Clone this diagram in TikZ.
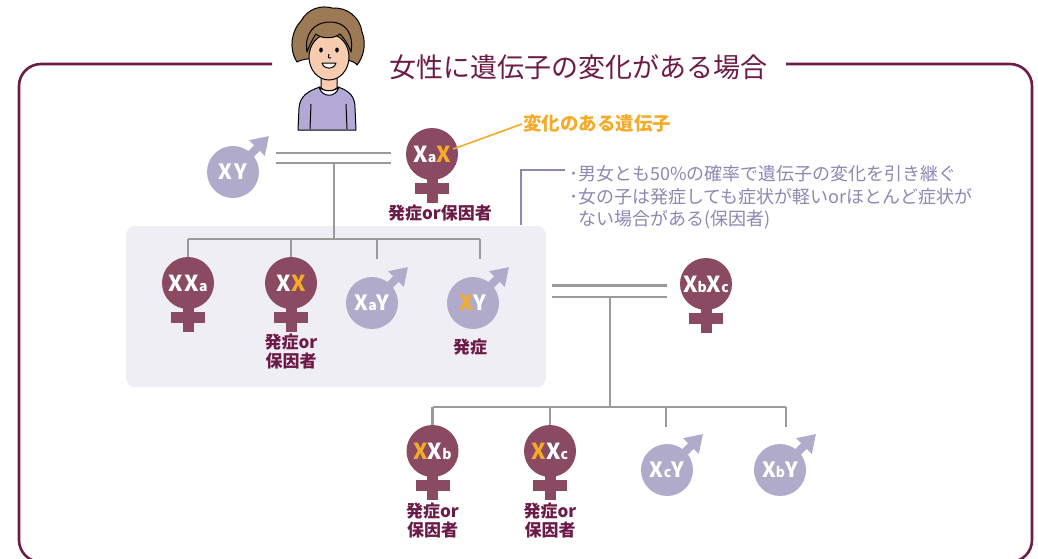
\documentclass[tikz,border=0pt]{standalone}
\usepackage{fontspec}
\setmainfont{Noto Sans CJK JP}
\newfontfamily\circfont{Noto Sans CJK JP}[LetterSpace=9]
\usetikzlibrary{arrows.meta}

\definecolor{femcol}{HTML}{8A4A62}
\definecolor{malecol}{HTML}{B1ABCB}
\definecolor{chgcol}{HTML}{F5AB28}
\definecolor{darkred}{HTML}{6C1A47}
\definecolor{framecol}{HTML}{6E1B48}
\definecolor{kincol}{HTML}{9A9A9A}
\definecolor{lavtext}{HTML}{8C87B3}
\definecolor{boxcol}{HTML}{EFEEF5}
\definecolor{hair}{HTML}{9B7A55}
\definecolor{skin}{HTML}{F7CCB0}
\definecolor{shirt}{HTML}{B3A9D6}

% small letter after an X
\newcommand\lowsub[1]{{\fontsize{14pt}{14pt}\selectfont #1}}
% the changed X
\newcommand\chgX{\textcolor{chgcol}{X}}

\tikzset{
  female/.style={circle, fill=femcol, minimum size=52pt, inner sep=0pt,
    text=white, font=\circfont\bfseries\fontsize{22pt}{22pt}\selectfont},
  male/.style={circle, fill=malecol, minimum size=52pt, inner sep=0pt,
    text=white, font=\circfont\bfseries\fontsize{21pt}{21pt}\selectfont},
  kin/.style={draw=kincol, line width=2.6pt},
  kindouble/.style={draw=kincol, line width=2.6pt, double=white},
  sexlabel/.style={text=darkred, font=\bfseries\fontsize{17pt}{19pt}\selectfont,
    align=center, inner sep=0pt},
  note/.style={text=lavtext, font=\fontsize{18pt}{18pt}\selectfont,
    anchor=west, inner sep=0pt},
}

% female cross below a circle node
\newcommand\femcross[1]{%
  \fill[femcol] ([shift={(-5.5,20)}]#1.center) rectangle ([shift={(5.5,49)}]#1.center);
  \fill[femcol] ([shift={(-17,29)}]#1.center) rectangle ([shift={(17,40)}]#1.center);}
% male arrow out of a circle node
\newcommand\malearrow[1]{%
  \draw[malecol, line width=8pt, -{Triangle[length=17pt,width=21pt]}]
    ([shift={(15,-15)}]#1.center) -- ([shift={(36,-36)}]#1.center);}

\begin{document}
\begin{tikzpicture}[x=1pt,y=-1pt]
\useasboundingbox (0,0) rectangle (1038,558);

% outer frame, open at the top for the heading
\draw[framecol, line width=2.6pt, rounded corners=22pt]
  (272,64) -- (19,64) -- (19,562) -- (1032,562) -- (1032,64) -- (786,64);
\node[text=darkred, font=\fontsize{27pt}{27pt}\selectfont, inner sep=0pt]
  (title) at (578,67) {女性に遺伝子の変化がある場合};

% the mother, drawn as a small portrait
\begin{scope}[line width=1pt, line join=round]
  % shirt
  \filldraw[fill=shirt, draw=black] (298,130) -- (299,108)
    .. controls (300,96) and (308,91) .. (320,87) -- (338,87)
    .. controls (350,91) and (355,97) .. (355,108) -- (356,130) -- cycle;
  \draw[black] (311,104) -- (310,129);
  \draw[black] (346,104) -- (347,129);
  % neck
  \filldraw[fill=skin, draw=black] (321,68) -- (321,88) .. controls (325,92) and (333,92) .. (337,88) -- (337,68) -- cycle;
  % collar
  \filldraw[fill=white, draw=black] (319,87) .. controls (322,98) and (336,98) .. (339,87)
    .. controls (334,92) and (324,92) .. cycle;
  % hair behind the face
  \filldraw[fill=hair, draw=black] (297,62)
    .. controls (288,48) and (292,30) .. (301,21)
    .. controls (308,8) and (322,5) .. (332,8)
    .. controls (347,7) and (360,17) .. (362,32)
    .. controls (367,44) and (363,58) .. (357,65)
    .. controls (352,56) and (306,56) .. (297,62) -- cycle;
  % face
  \filldraw[fill=skin, draw=black] (329,57) ellipse [x radius=20, y radius=23];
  % fringe
  \filldraw[fill=hair, draw=black] (307,52)
    .. controls (304,34) and (314,22) .. (330,22)
    .. controls (346,22) and (354,34) .. (351,52)
    .. controls (348,44) and (344,38) .. (340,34)
    .. controls (332,40) and (320,38) .. (316,34)
    .. controls (312,40) and (309,46) .. (307,52) -- cycle;
  % eyes, nose, mouth
  \fill[black] (321,50) ellipse [x radius=1.8, y radius=2.5];
  \fill[black] (337,50) ellipse [x radius=1.8, y radius=2.5];
  \draw[black] (329,54) .. controls (327,58) and (330,59) .. (331,58);
  \filldraw[fill=white, draw=black] (322,63) .. controls (324,70) and (334,70) .. (336,63) -- cycle;
\end{scope}

% highlighted box around the children
\node[fill=boxcol, rounded corners=9pt, minimum width=420pt, minimum height=161pt,
  inner sep=0pt] (sibbox) at (336,306.5) {};

% first generation
\node[male] (f1) at (233,172) {XY};
\malearrow{f1}
\node[female] (m1) at (432,154) {X\lowsub{a}\chgX};
\femcross{m1}
\node[sexlabel] (m1lab) at (440,213) {発症or保因者};

% marker for the changed gene
\coordinate (ptr) at (522,124);
\draw[chgcol, line width=1.6pt] ([shift={(21,-5)}]m1.center) -- (ptr);
\node[text=chgcol, font=\bfseries\fontsize{18.5pt}{18.5pt}\selectfont, anchor=west,
  inner sep=0pt] (ptrlab) at ([xshift=1pt]ptr) {変化のある遺伝子};

% notes on the children
\coordinate (nb1) at (521,225);
\coordinate (nb2) at (521,170);
\coordinate (nb3) at (565,170);
\draw[lavtext, line width=2.6pt] (nb1) -- (nb2) -- (nb3);
\node[note] (n1) at (569,174) {･男女とも50\%の確率で遺伝子の変化を引き継ぐ};
\node[note] (n2) at (569,197) {･女の子は発症しても症状が軽いorほとんど症状が};
\node[note] (n3) at (578,220) {ない場合がある(保因者)};

% parents' link and line of descent
\coordinate (p1L) at (276,158);
\coordinate (p1R) at (391,158);
\draw[kindouble, double distance=7.4pt] (p1L) -- (p1R);
\coordinate (j1) at (334,163);
\coordinate (b1) at (334,239);
\coordinate (b1L) at (188,239);
\coordinate (b1R) at (480,239);
\coordinate (d3) at (377,259);
\coordinate (d4) at (480,259);

% children
\node[female] (c1) at (188,283) {XX\lowsub{a}};
\femcross{c1}
\node[female] (c2) at (291,283) {X\chgX};
\femcross{c2}
\node[sexlabel] (c2lab) at (291,352) {発症or\\保因者};
\node[male] (c3) at (372,303) {X\lowsub{a}Y};
\malearrow{c3}
\node[male] (c4) at (473,303) {\chgX Y};
\malearrow{c4}
\node[sexlabel] (c4lab) at (470,347) {発症};

\draw[kin] (j1) -- (b1);
\draw[kin] (b1L) -- (b1R);
\draw[kin] (b1L) -- (c1.north);
\draw[kin] (c2.north |- b1) -- (c2.north);
\draw[kin] (d3 |- b1) -- (d3);
\draw[kin] (b1R) -- (d4);

% the son's partner
\node[female] (s1) at (706,284) {X\lowsub{b}X\lowsub{c}};
\femcross{s1}
\coordinate (p2L) at (552,291);
\coordinate (p2R) at (667,291);
\draw[kindouble, double distance=9pt] (p2L) -- (p2R);
\coordinate (j2) at (610,297);
\coordinate (b2) at (610,407);
\coordinate (b2L) at (432.5,407);
\coordinate (b2R) at (786,407);
\coordinate (e3) at (666,427);
\coordinate (e4) at (786,427);

% grandchildren
\node[female] (g1) at (432.5,451) {\chgX X\lowsub{b}};
\femcross{g1}
\node[sexlabel] (g1lab) at (432.5,521) {発症or\\保因者};
\node[female] (g2) at (550,451) {\chgX X\lowsub{c}};
\femcross{g2}
\node[sexlabel] (g2lab) at (550,521) {発症or\\保因者};
\node[male] (g3) at (667,470) {X\lowsub{c}Y};
\malearrow{g3}
\node[male] (g4) at (780,470) {X\lowsub{b}Y};
\malearrow{g4}

\draw[kin] (j2) -- (b2);
\draw[kin] (b2L) -- (b2R);
\draw[kin] (b2L) -- (g1.north);
\draw[kin] (g2.north |- b2) -- (g2.north);
\draw[kin] (e3 |- b2) -- (e3);
\draw[kin] (b2R) -- (e4);
\end{tikzpicture}
\end{document}
